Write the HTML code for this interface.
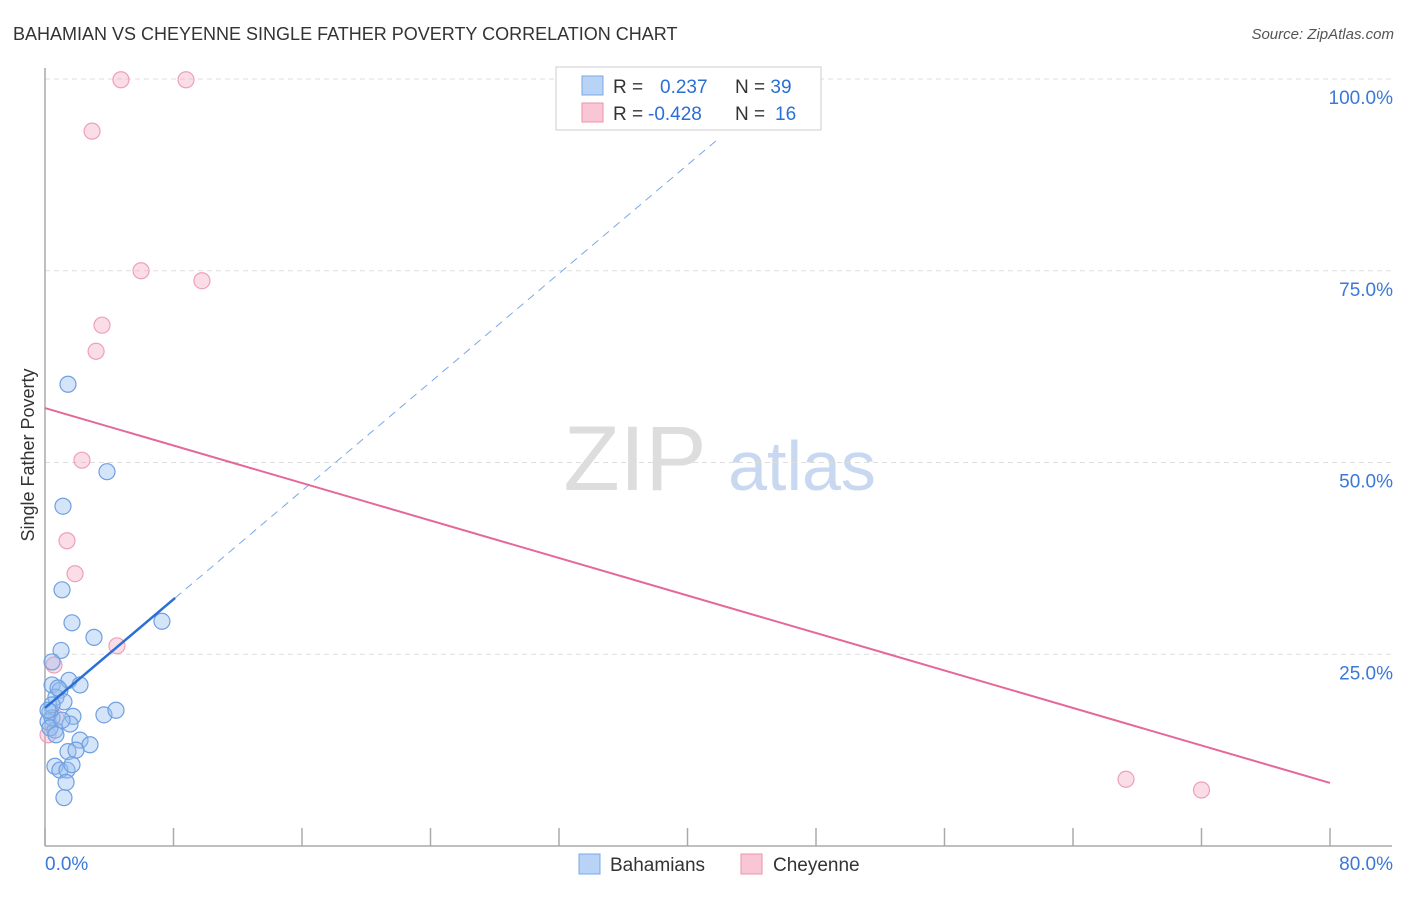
<!DOCTYPE html>
<html><head><meta charset="utf-8"><style>
body{margin:0;background:#fff;font-family:"Liberation Sans",sans-serif;}
svg text{font-family:"Liberation Sans",sans-serif;}
</style></head><body>
<svg width="1406" height="892" xmlns="http://www.w3.org/2000/svg">
<text x="13" y="40" font-size="18" fill="#333">BAHAMIAN VS CHEYENNE SINGLE FATHER POVERTY CORRELATION CHART</text>
<text x="1394" y="39" font-size="15" fill="#555" font-style="italic" text-anchor="end">Source: ZipAtlas.com</text>
<g>
<text x="635" y="490" font-size="92" fill="#ddd" font-family="Liberation Serif" text-anchor="middle">ZIP</text>
<text x="802" y="490" font-size="70" fill="#c8d8f0" text-anchor="middle">atlas</text>
</g>
<g id="grid"></g>
<g id="axes"></g>
<g id="marks"></g>
<text transform="translate(34,455) rotate(-90)" font-size="18" fill="#333" text-anchor="middle">Single Father Poverty</text>
<g>
<rect x="556" y="67" width="265" height="63" fill="#fff" stroke="#ccc"/>
<rect x="582" y="76" width="21" height="19" fill="#b8d3f5" stroke="#7aa8e8"/>
<rect x="582" y="103" width="21" height="19" fill="#f9c6d5" stroke="#ee92ad"/>
<text x="613" y="93" font-size="19" fill="#333">R = <tspan fill="#2a6fd6" x="660">0.237</tspan></text>
<text x="735" y="93" font-size="19" fill="#333">N = <tspan fill="#2a6fd6">39</tspan></text>
<text x="613" y="120" font-size="19" fill="#333">R = <tspan fill="#2a6fd6" x="648">-0.428</tspan></text>
<text x="735" y="120" font-size="19" fill="#333">N = <tspan fill="#2a6fd6" x="775">16</tspan></text>
</g>
<g>
<rect x="579" y="854" width="21" height="20" fill="#b8d3f5" stroke="#7aa8e8"/>
<text x="610" y="871" font-size="19" fill="#333">Bahamians</text>
<rect x="741" y="854" width="21" height="20" fill="#f9c6d5" stroke="#ee92ad"/>
<text x="773" y="871" font-size="19" fill="#333">Cheyenne</text>
</g>
</svg>
<script>
const blueX=[1.43,3.86,1.12,1.06,1.68,3.05,7.28,1.0,0.44,0.44,0.93,1.49,2.18,0.68,1.18,1.74,3.67,4.42,0.31,0.19,0.62,1.56,0.44,2.18,2.80,1.43,1.93,0.62,0.93,1.37,1.31,1.18,0.44,0.31,0.81,1.06,0.19,0.68,1.68];
const blueY=[60.2,48.8,44.3,33.4,29.1,27.2,29.3,25.5,24.0,21.0,20.3,21.6,21.0,19.4,18.8,16.9,17.1,17.7,17.5,16.2,15.1,15.9,16.7,13.8,13.2,12.3,12.5,10.4,9.9,9.9,8.3,6.3,18.4,15.4,20.6,16.4,17.7,14.5,10.6];
const pinkX=[4.73,8.78,2.93,5.98,9.77,3.55,3.18,2.30,1.37,1.87,4.48,0.56,0.68,0.19,67.3,72.0];
const pinkY=[99.9,99.9,93.2,75.0,73.7,67.9,64.5,50.3,39.8,35.5,26.1,23.6,16.7,14.5,8.7,7.3];
const blueFit=[18.0,1.77]; // intercept, slope
const pinkFit=[57.1,-0.611];
const yTicks=[25,50,75,100];
const xTickVals=[0,8,16,24,32,40,48,56,64,72,80];
const NS="http://www.w3.org/2000/svg";
const sx=v=>45+v/80*1285, sy=v=>846-v/100*767;
function mk(t,a,p){const e=document.createElementNS(NS,t);for(const k in a)e.setAttribute(k,a[k]);document.getElementById(p).appendChild(e);return e;}
yTicks.forEach(t=>{
 const l=mk('line',{x1:45,x2:1392,y1:sy(t),y2:sy(t),stroke:'#ddd','stroke-dasharray':'5,4'},'grid');
 
 
 const tx=mk('text',{x:1393,y:sy(t)+25,'font-size':19,fill:'#3b78d8','text-anchor':'end'},'grid');
 tx.textContent=t.toFixed(1)+'%';
 
 
});
const ax=mk('line',{x1:45,x2:45,y1:68,y2:846,stroke:'#aaa','stroke-width':1.5},'axes');


const xa=mk('line',{x1:45,x2:1392,y1:846,y2:846,stroke:'#aaa','stroke-width':1.5},'axes');


xTickVals.forEach(t=>{
 const l=mk('line',{x1:sx(t),x2:sx(t),y1:828,y2:846,stroke:'#aaa','stroke-width':1.5},'axes');
 
 
});
[[0,'0.0%','start',45],[80,'80.0%','end',1393]].forEach(([v,s,a,x])=>{
 const tx=mk('text',{x:x,y:870,'font-size':19,fill:'#3b78d8','text-anchor':a},'axes');
 tx.textContent=s;
 
 
});
pinkX.forEach((x,i)=>{
 const c=mk('circle',{cx:sx(x),cy:sy(pinkY[i]),r:8,fill:'rgba(246,170,195,0.4)',stroke:'#eea0b8','stroke-width':1.2},'marks');
 
 
});
blueX.forEach((x,i)=>{
 const c=mk('circle',{cx:sx(x),cy:sy(blueY[i]),r:8,fill:'rgba(150,190,240,0.4)',stroke:'#6f9fe0','stroke-width':1.2},'marks');
 
 
});
const f=(fit,x)=>fit[0]+fit[1]*x;
const bl=mk('line',{x1:sx(0),y1:sy(f(blueFit,0)),x2:sx(8.1),y2:sy(f(blueFit,8.1)),stroke:'#2a6fd6','stroke-width':2.5},'marks');


const bd=mk('line',{x1:sx(8.1),y1:sy(f(blueFit,8.1)),x2:sx(42),y2:sy(f(blueFit,42)),stroke:'#7aa8e8','stroke-width':1,'stroke-dasharray':'8,6'},'marks');


const pl=mk('line',{x1:sx(0),y1:sy(f(pinkFit,0)),x2:sx(80),y2:sy(f(pinkFit,80)),stroke:'#e4689a','stroke-width':2},'marks');


</script>
</body></html>
